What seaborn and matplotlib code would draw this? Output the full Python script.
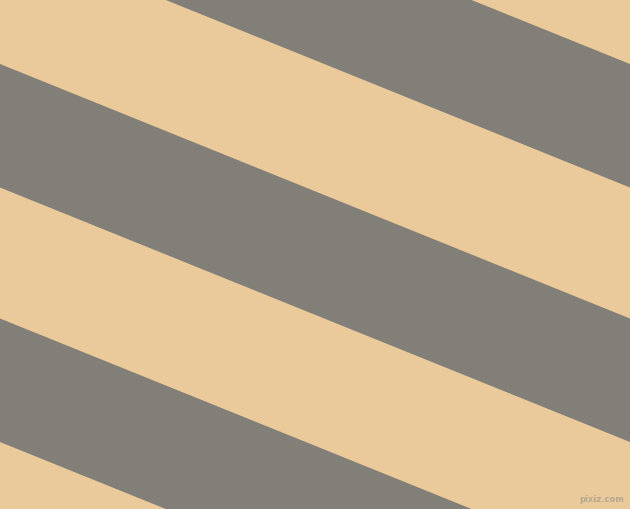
"""
Diagonal two-colour stripe pattern (beige / warm grey).
"""

import matplotlib

matplotlib.use("Agg")
import matplotlib.pyplot as plt
import numpy as np
import seaborn as sns

# stripe data, in pixel units of the 630x509 canvas
WIDTH = 630
HEIGHT = 509
SLOPE = 0.404
GREY_TOPS = [-190.5, 64.0, 318.5]   # y of each grey band's upper edge at x=0
GREY_THICKNESS = 123.5               # vertical thickness of each grey band

BEIGE = "#eac99b"
GREY = "#817f78"


def main() -> None:
    sns.set_theme(style="white")
    fig = plt.figure(figsize=(WIDTH / 100, HEIGHT / 100), dpi=100)
    ax = fig.add_axes([0, 0, 1, 1])
    ax.set_facecolor(BEIGE)

    x = np.array([0, WIDTH])
    for top in GREY_TOPS:
        upper = top + SLOPE * x
        lower = upper + GREY_THICKNESS
        ax.fill_between(x, upper, lower, color=GREY, linewidth=0)

    ax.set_xlim(0, WIDTH)
    ax.set_ylim(HEIGHT, 0)
    ax.axis("off")

    ax.text(624, 499, "pixiz.com", fontsize=6, color="#b4a890",
            ha="right", va="center", fontweight="bold")

    fig.savefig("out.png", dpi=100, facecolor=BEIGE)
    plt.close(fig)


if __name__ == "__main__":
    main()
